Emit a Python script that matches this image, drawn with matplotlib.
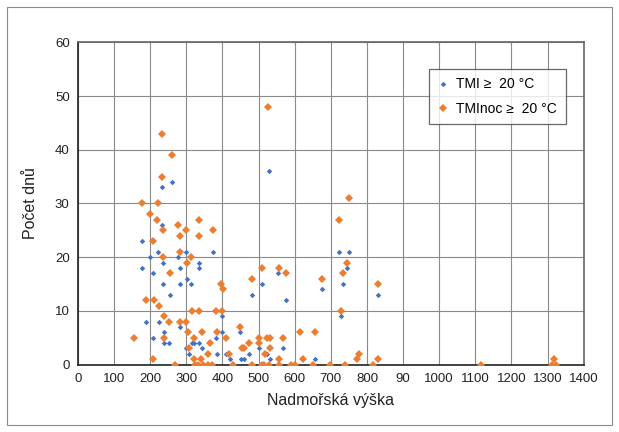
import matplotlib.pyplot as plt
from matplotlib.patches import Rectangle

plt.rcParams['font.family'] = ['Liberation Sans', 'DejaVu Sans']

# altitude (m) and number of days for each station
tmi_alt = [233, 260, 528, 232, 176, 221, 299, 374, 200, 277, 234, 334, 176, 282,
           334, 209, 301, 554, 509, 234, 282, 312, 483, 254, 400, 188, 223, 282,
           448, 238, 400, 209, 382, 238, 253, 315, 322, 334, 299, 344, 501, 568,
           306, 386, 411, 474, 522, 451, 459, 531, 420, 656, 722, 749, 744, 735,
           675, 577, 831, 727]
tmi_days = [33, 34, 36, 26, 23, 21, 21, 21, 20, 20, 19, 19, 18, 18,
            18, 17, 16, 17, 15, 15, 15, 15, 13, 13, 9, 8, 8, 7,
            6, 6, 6, 5, 5, 4, 4, 4, 4, 4, 3, 3, 3, 3,
            2, 2, 2, 2, 2, 1, 1, 1, 1, 1, 21, 21, 18, 15,
            14, 12, 13, 9]

noc_alt = [233, 260, 526, 233, 176, 222, 200, 220, 334, 277, 234, 299, 374, 282,
           334, 209, 282, 235, 312, 301, 255, 509, 556, 577, 483, 397, 401, 188,
           210, 224, 315, 334, 382, 400, 238, 253, 283, 300, 448, 305, 344, 385,
           614, 656, 155, 238, 322, 411, 501, 522, 531, 568, 366, 474, 500, 308,
           453, 459, 531, 361, 419, 518, 778, 208, 322, 340, 557, 623, 773, 831,
           1318, 268, 324, 333, 347, 361, 370, 430, 483, 510, 516, 528, 557, 591,
           600, 650, 697, 740, 818, 1116, 1311, 1324, 749, 722, 744, 735, 675,
           831, 727]
noc_days = [43, 39, 48, 35, 30, 30, 28, 27, 27, 26, 25, 25, 25, 24,
            24, 23, 21, 20, 20, 19, 17, 18, 18, 17, 16, 15, 14, 12,
            12, 11, 10, 10, 10, 10, 9, 8, 8, 8, 7, 6, 6, 6,
            6, 6, 5, 5, 5, 5, 5, 5, 5, 5, 4, 4, 4, 3,
            3, 3, 3, 2, 2, 2, 2, 1, 1, 1, 1, 1, 1, 1,
            1, 0, 0, 0, 0, 0, 0, 0, 0, 0, 0, 0, 0, 0,
            0, 0, 0, 0, 0, 0, 0, 0, 31, 27, 19, 17, 16,
            15, 10]

x_ticks = list(range(0, 1500, 100))
x_labels = ['0', '100', '200', '300', '400', '500', '600', '700', '800', '90',
            '1000', '1100', '1200', '1300', '1400']
y_ticks = list(range(0, 70, 10))

fig = plt.figure(figsize=(6.19, 4.32), dpi=100)
fig.patches.append(Rectangle((0.011, 0.016), 0.978, 0.968, transform=fig.transFigure,
                             fill=False, edgecolor='#8c8c8c', linewidth=0.8))
ax = fig.add_axes([0.126, 0.156, 0.817, 0.746])

ax.plot(tmi_alt, tmi_days, 'D', color='#4472c4', markersize=2.8,
        markeredgewidth=0, label='TMI \u2265  20 \u00b0C', zorder=3)
ax.plot(noc_alt, noc_days, 'D', color='#ed7d31', markersize=3.8,
        markeredgewidth=0, label='TMInoc \u2265  20 \u00b0C', zorder=3)

ax.set_xlim(0, 1400)
ax.set_ylim(0, 60)
ax.set_xticks(x_ticks)
ax.set_xticklabels(x_labels)
ax.set_yticks(y_ticks)
ax.tick_params(length=0, labelsize=9.5, colors='#222222', pad=6)
ax.grid(True, color='#8a8a8a', linewidth=0.8)
ax.set_axisbelow(True)

for side in ['top', 'right']:
    ax.spines[side].set_color('#666666')
    ax.spines[side].set_linewidth(1.2)
for side in ['left', 'bottom']:
    ax.spines[side].set_color('#222222')
    ax.spines[side].set_linewidth(1.2)

ax.set_xlabel('Nadmořská výška', fontsize=11.5, color='#222222', labelpad=6)
ax.set_ylabel('Počet dnů', fontsize=11.5, color='#222222', labelpad=12)

leg = ax.legend(loc='upper right', bbox_to_anchor=(0.964, 0.917), fontsize=10,
                frameon=True, fancybox=False, edgecolor='#444444',
                borderaxespad=0, handlelength=0.8, handletextpad=0.6,
                borderpad=0.6, labelspacing=0.75, markerscale=1.0)
leg.get_frame().set_linewidth(0.9)

fig.savefig('out.png', dpi=100)
